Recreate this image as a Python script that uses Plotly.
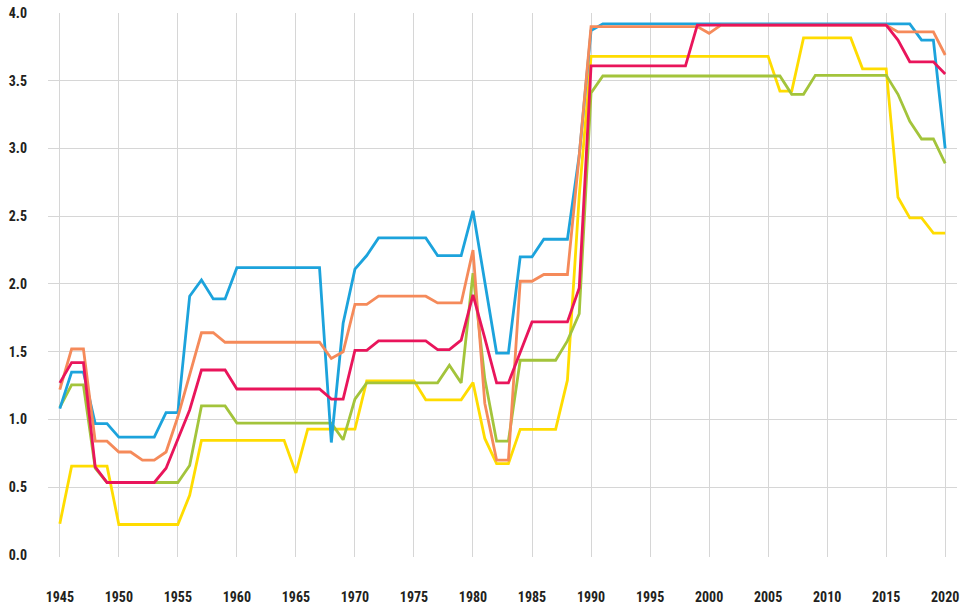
import plotly.graph_objects as go

years = list(range(1945, 2021))

blue = [1.08, 1.35, 1.35, 0.97, 0.97,
        0.87, 0.87, 0.87, 0.87, 1.05, 1.05, 1.91, 2.03, 1.89, 1.89,
        2.12, 2.12, 2.12, 2.12, 2.12, 2.12, 2.12, 2.12, 0.83, 1.71,
        2.11, 2.21, 2.34, 2.34, 2.34, 2.34, 2.34, 2.21, 2.21, 2.21,
        2.54, 2.01, 1.49, 1.49, 2.20, 2.20, 2.33, 2.33, 2.33, 2.95,
        3.87, 3.92, 3.92, 3.92, 3.92, 3.92, 3.92, 3.92, 3.92, 3.92,
        3.92, 3.92, 3.92, 3.92, 3.92, 3.92, 3.92, 3.92, 3.92, 3.92,
        3.92, 3.92, 3.92, 3.92, 3.92, 3.92, 3.92, 3.92, 3.80, 3.80,
        3.00]

orange = [1.22, 1.52, 1.52, 0.84, 0.84,
          0.76, 0.76, 0.70, 0.70, 0.76, 1.02, 1.33, 1.64, 1.64, 1.57,
          1.57, 1.57, 1.57, 1.57, 1.57, 1.57, 1.57, 1.57, 1.45, 1.50,
          1.85, 1.85, 1.91, 1.91, 1.91, 1.91, 1.91, 1.86, 1.86, 1.86,
          2.25, 1.12, 0.70, 0.70, 2.02, 2.02, 2.07, 2.07, 2.07, 2.95,
          3.90, 3.90, 3.90, 3.90, 3.90, 3.90, 3.90, 3.90, 3.90, 3.90,
          3.85, 3.91, 3.91, 3.91, 3.91, 3.91, 3.91, 3.91, 3.91, 3.91,
          3.91, 3.91, 3.91, 3.91, 3.91, 3.91, 3.86, 3.86, 3.86, 3.86,
          3.69]

red = [1.27, 1.42, 1.42, 0.65, 0.535,
       0.535, 0.535, 0.535, 0.535, 0.64, 0.85, 1.07, 1.365, 1.365, 1.365,
       1.225, 1.225, 1.225, 1.225, 1.225, 1.225, 1.225, 1.225, 1.15, 1.15,
       1.51, 1.51, 1.58, 1.58, 1.58, 1.58, 1.58, 1.515, 1.515, 1.585,
       1.92, 1.60, 1.27, 1.27, 1.50, 1.72, 1.72, 1.72, 1.72, 1.97,
       3.61, 3.61, 3.61, 3.61, 3.61, 3.61, 3.61, 3.61, 3.61, 3.91,
       3.91, 3.91, 3.91, 3.91, 3.91, 3.91, 3.91, 3.91, 3.91, 3.91,
       3.91, 3.91, 3.91, 3.91, 3.91, 3.91, 3.80, 3.64, 3.64, 3.64,
       3.55]

green = [1.09, 1.255, 1.255, 0.64, 0.535,
         0.535, 0.535, 0.535, 0.535, 0.535, 0.535, 0.66, 1.10, 1.10, 1.10,
         0.973, 0.973, 0.973, 0.973, 0.973, 0.973, 0.973, 0.973, 0.973, 0.85,
         1.15, 1.27, 1.27, 1.27, 1.27, 1.27, 1.27, 1.27, 1.40, 1.27,
         2.08, 1.30, 0.84, 0.84, 1.437, 1.437, 1.437, 1.437, 1.58, 1.78,
         3.41, 3.535, 3.535, 3.535, 3.535, 3.535, 3.535, 3.535, 3.535, 3.535,
         3.535, 3.535, 3.535, 3.535, 3.535, 3.535, 3.535, 3.40, 3.40, 3.54,
         3.54, 3.54, 3.54, 3.54, 3.54, 3.54, 3.40, 3.20, 3.07, 3.07,
         2.89]

yellow = [0.23, 0.655, 0.655, 0.655, 0.655,
          0.225, 0.225, 0.225, 0.225, 0.225, 0.225, 0.44, 0.846, 0.846, 0.846,
          0.846, 0.846, 0.846, 0.846, 0.846, 0.605, 0.929, 0.929, 0.929, 0.929,
          0.929, 1.285, 1.285, 1.285, 1.285, 1.285, 1.145, 1.145, 1.145, 1.145,
          1.272, 0.86, 0.674, 0.674, 0.927, 0.927, 0.927, 0.927, 1.29, 2.65,
          3.68, 3.68, 3.68, 3.68, 3.68, 3.68, 3.68, 3.68, 3.68, 3.68,
          3.68, 3.68, 3.68, 3.68, 3.68, 3.68, 3.424, 3.424, 3.816, 3.816,
          3.816, 3.816, 3.816, 3.588, 3.588, 3.588, 2.64, 2.488, 2.488, 2.375,
          2.375]

x_ticks = list(range(1945, 2021, 5))
y_ticks = [0.0, 0.5, 1.0, 1.5, 2.0, 2.5, 3.0, 3.5, 4.0]
y_ticktext = ["0.0", "0.5", "1.0", "1.5", "2.0", "2.5", "3.0", "3.5", "4.0"]
y_grid = [0.5, 1.0, 1.5, 2.0, 2.5, 3.0, 3.5]

series = [
    ("yellow", yellow, "#ffdc00"),
    ("green", green, "#a3c43b"),
    ("blue", blue, "#1ca3dc"),
    ("orange", orange, "#f58a5a"),
    ("red", red, "#e9155b"),
]

fig = go.Figure()
for name, vals, col in series:
    fig.add_trace(go.Scatter(x=years, y=vals, mode="lines", name=name,
                             line=dict(color=col, width=2.8),
                             showlegend=False))

font = dict(family="Roboto Condensed, DejaVu Sans Condensed, Liberation Sans Narrow, Roboto, sans-serif",
            size=14, color="#231f20", weight="bold")

fig.update_layout(
    width=973, height=607,
    margin=dict(l=48, r=16, t=13, b=50, autoexpand=False),
    paper_bgcolor="white", plot_bgcolor="white",
    showlegend=False,
    xaxis=dict(range=[1944, 2021], tickvals=x_ticks, showgrid=True,
               gridcolor="#d6d6d6", gridwidth=1, zeroline=False,
               showline=False, ticks="", tickfont=font, automargin=False,
               ticklabelstandoff=30),
    yaxis=dict(range=[-0.015, 4.0], tickvals=y_ticks, ticktext=y_ticktext,
               showgrid=False, zeroline=False, showline=False, ticks="",
               tickfont=font, ticklabelstandoff=20, automargin=False,
               minor=dict(tickvals=y_grid, showgrid=True,
                          gridcolor="#d6d6d6", gridwidth=1, ticks="")),
)

fig.write_html("out.html",
               config={"displayModeBar": False},
               post_script="document.body.style.margin='0';"
                           "document.body.style.overflow='hidden';")
